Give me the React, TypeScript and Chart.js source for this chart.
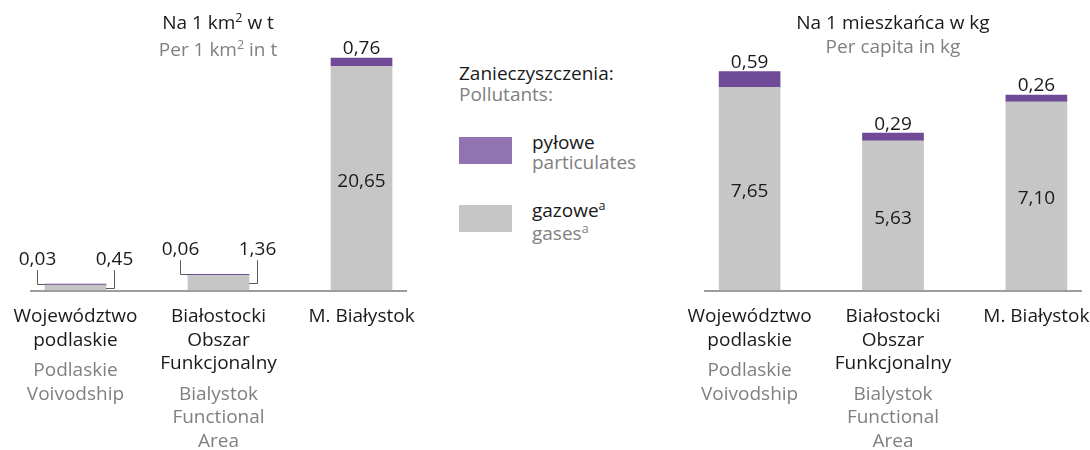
import React, { useEffect, useRef } from "react";
import { Chart, registerables } from "chart.js";

Chart.register(...registerables);

// ---------- data ----------
const categoriesPL: string[][] = [
  ["Województwo", "podlaskie"],
  ["Białostocki", "Obszar", "Funkcjonalny"],
  ["M. Białystok"],
];
const categoriesEN: string[][] = [
  ["Podlaskie", "Voivodship"],
  ["Bialystok", "Functional", "Area"],
  [],
];
const areaGases = [0.45, 1.36, 20.65];
const areaParticulates = [0.03, 0.06, 0.76];
const capitaGases = [7.65, 5.63, 7.1];
const capitaParticulates = [0.59, 0.29, 0.26];
const areaBracketed = [0, 1];
const capitaBracketed: number[] = [];

// ---------- style ----------
const PURPLE = "#6f4a96";
const PURPLE_LEGEND = "#9073b0";
const GRAY = "#c6c6c6";
const AXIS = "#9d9d9d";
const TEXT = "#1a1a1a";
const SUBTEXT = "#808080";
const LEADER = "#5a5a5a";
const FONT = "'Open Sans', sans-serif";
const FS = 19;

const fmt = (v: number) => v.toFixed(2).replace(".", ",");

function makePlugin(bracketed: number[]) {
  return {
    id: "customText",
    afterDatasetsDraw(chart: any) {
      const ctx = chart.ctx as CanvasRenderingContext2D;
      const xs = chart.scales.x;
      const ys = chart.scales.y;
      const area = chart.chartArea;
      const gasMeta = chart.getDatasetMeta(0);
      const parMeta = chart.getDatasetMeta(1);
      const gasData = chart.data.datasets[0].data;
      const parData = chart.data.datasets[1].data;
      ctx.save();
      // axis baseline
      const y0 = ys.getPixelForValue(0);
      ctx.strokeStyle = AXIS;
      ctx.lineWidth = 2;
      ctx.beginPath();
      ctx.moveTo(area.left, y0 + 1);
      ctx.lineTo(area.right, y0 + 1);
      ctx.stroke();

      ctx.font = `${FS}px ${FONT}`;
      ctx.textAlign = "center";
      ctx.textBaseline = "middle";
      gasMeta.data.forEach((gb: any, i: number) => {
        const g = gb.getProps(["x", "y", "base", "width"], true);
        const p = parMeta.data[i].getProps(["y"], true);
        const gv = gasData[i].y;
        const pv = parData[i].y;
        const left = g.x - g.width / 2;
        const right = g.x + g.width / 2;
        ctx.fillStyle = TEXT;
        if (bracketed.includes(i)) {
          const lx = Math.round(left - 8) + 0.5;
          const rx = Math.round(right + 8) + 0.5;
          const ly = p.y - 25;
          ctx.fillText(fmt(pv), lx, ly);
          ctx.fillText(fmt(gv), rx, ly);
          ctx.strokeStyle = LEADER;
          ctx.lineWidth = 1;
          const pt = Math.round(p.y) + 0.5;
          ctx.beginPath();
          ctx.moveTo(lx, ly + 11);
          ctx.lineTo(lx, pt);
          ctx.lineTo(left, pt);
          ctx.stroke();
          const gm = Math.round((g.y + g.base) / 2) + 0.5;
          ctx.beginPath();
          ctx.moveTo(rx, ly + 11);
          ctx.lineTo(rx, gm);
          ctx.lineTo(right, gm);
          ctx.stroke();
        } else {
          ctx.fillText(fmt(pv), g.x, p.y - 9);
          ctx.fillText(fmt(gv), g.x, (g.y + g.base) / 2 + 3);
        }
        // category labels
        let ty = area.bottom + 27;
        ctx.fillStyle = TEXT;
        categoriesPL[i].forEach((line, k) => {
          ctx.fillText(line, xs.getPixelForValue(i), ty + k * 23.5);
        });
        ty += (categoriesPL[i].length - 1) * 23.5 + 30.5;
        ctx.fillStyle = SUBTEXT;
        categoriesEN[i].forEach((line, k) => {
          ctx.fillText(line, xs.getPixelForValue(i), ty + k * 23.5);
        });
      });
      ctx.restore();
    },
  };
}

type PanelProps = {
  left: number;
  gases: number[];
  particulates: number[];
  yMax: number;
  padding: { left: number; right: number; top: number; bottom: number };
  bracketed: number[];
};

function Panel({ left, gases, particulates, yMax, padding, bracketed }: PanelProps) {
  const ref = useRef<HTMLCanvasElement>(null);
  useEffect(() => {
    if (!ref.current) return;
    const chart = new Chart(ref.current, {
      type: "bar",
      data: {
        datasets: [
          {
            label: "gazowe",
            data: gases.map((v, i) => ({ x: i, y: v })),
            backgroundColor: GRAY,
            barThickness: 61,
            borderWidth: 0,
          },
          {
            label: "pyłowe",
            data: particulates.map((v, i) => ({ x: i, y: v })),
            backgroundColor: PURPLE,
            barThickness: 61,
            borderWidth: 0,
            minBarLength: 1,
          },
        ],
      },
      options: {
        responsive: false,
        animation: false,
        layout: { padding },
        plugins: { legend: { display: false }, tooltip: { enabled: false }, title: { display: false } },
        scales: {
          x: {
            type: "linear",
            min: -0.318,
            max: 2.318,
            offset: false,
            grid: { offset: false },
            stacked: true,
            display: false,
          },
          y: { min: 0, max: yMax, stacked: true, display: false },
        },
      },
      plugins: [makePlugin(bracketed)],
    } as any);
    return () => chart.destroy();
  }, []);
  return (
    <canvas
      ref={ref}
      width={440}
      height={450}
      style={{ position: "absolute", left, top: 0, width: 440, height: 450 }}
    />
  );
}

const sup: React.CSSProperties = { fontSize: 12.5, position: "relative", top: -7 };

export default function App() {
  return (
    <div
      style={{
        position: "fixed",
        left: 0,
        top: 0,
        width: 1090,
        height: 450,
        background: "#fff",
        overflow: "hidden",
        fontFamily: FONT,
        fontSize: FS,
        color: TEXT,
      }}
    >
      <Panel
        left={0}
        gases={areaGases}
        particulates={areaParticulates}
        yMax={24}
        padding={{ left: 30, right: 33, top: 30, bottom: 160 }}
        bracketed={areaBracketed}
      />
      <Panel
        left={650}
        gases={capitaGases}
        particulates={capitaParticulates}
        yMax={10}
        padding={{ left: 54, right: 8, top: 25, bottom: 160 }}
        bracketed={capitaBracketed}
      />
      {/* titles */}
      <div style={{ position: "absolute", left: 68, width: 300, top: 10, lineHeight: "24px", textAlign: "center" }}>
        <div>
          Na 1 km<span style={sup}>2</span> w t
        </div>
        <div style={{ color: SUBTEXT }}>
          Per 1 km<span style={sup}>2</span> in t
        </div>
      </div>
      <div style={{ position: "absolute", left: 743, width: 300, top: 10, lineHeight: "24px", textAlign: "center" }}>
        <div>Na 1 mieszkańca w kg</div>
        <div style={{ color: SUBTEXT }}>Per capita in kg</div>
      </div>
      {/* legend */}
      <div style={{ position: "absolute", left: 459, top: 63, lineHeight: "21px", whiteSpace: "nowrap" }}>
        <div>Zanieczyszczenia:</div>
        <div style={{ color: SUBTEXT }}>Pollutants:</div>
      </div>
      <div style={{ position: "absolute", left: 459, top: 137, width: 53, height: 27, background: PURPLE_LEGEND }} />
      <div style={{ position: "absolute", left: 532, top: 132, lineHeight: "20px", whiteSpace: "nowrap" }}>
        <div>pyłowe</div>
        <div style={{ color: SUBTEXT }}>particulates</div>
      </div>
      <div style={{ position: "absolute", left: 459, top: 205, width: 53, height: 27, background: GRAY }} />
      <div style={{ position: "absolute", left: 532, top: 200, lineHeight: "20px", whiteSpace: "nowrap" }}>
        <div>
          gazowe<span style={sup}>a</span>
        </div>
        <div style={{ color: SUBTEXT }}>
          gases<span style={sup}>a</span>
        </div>
      </div>
    </div>
  );
}
